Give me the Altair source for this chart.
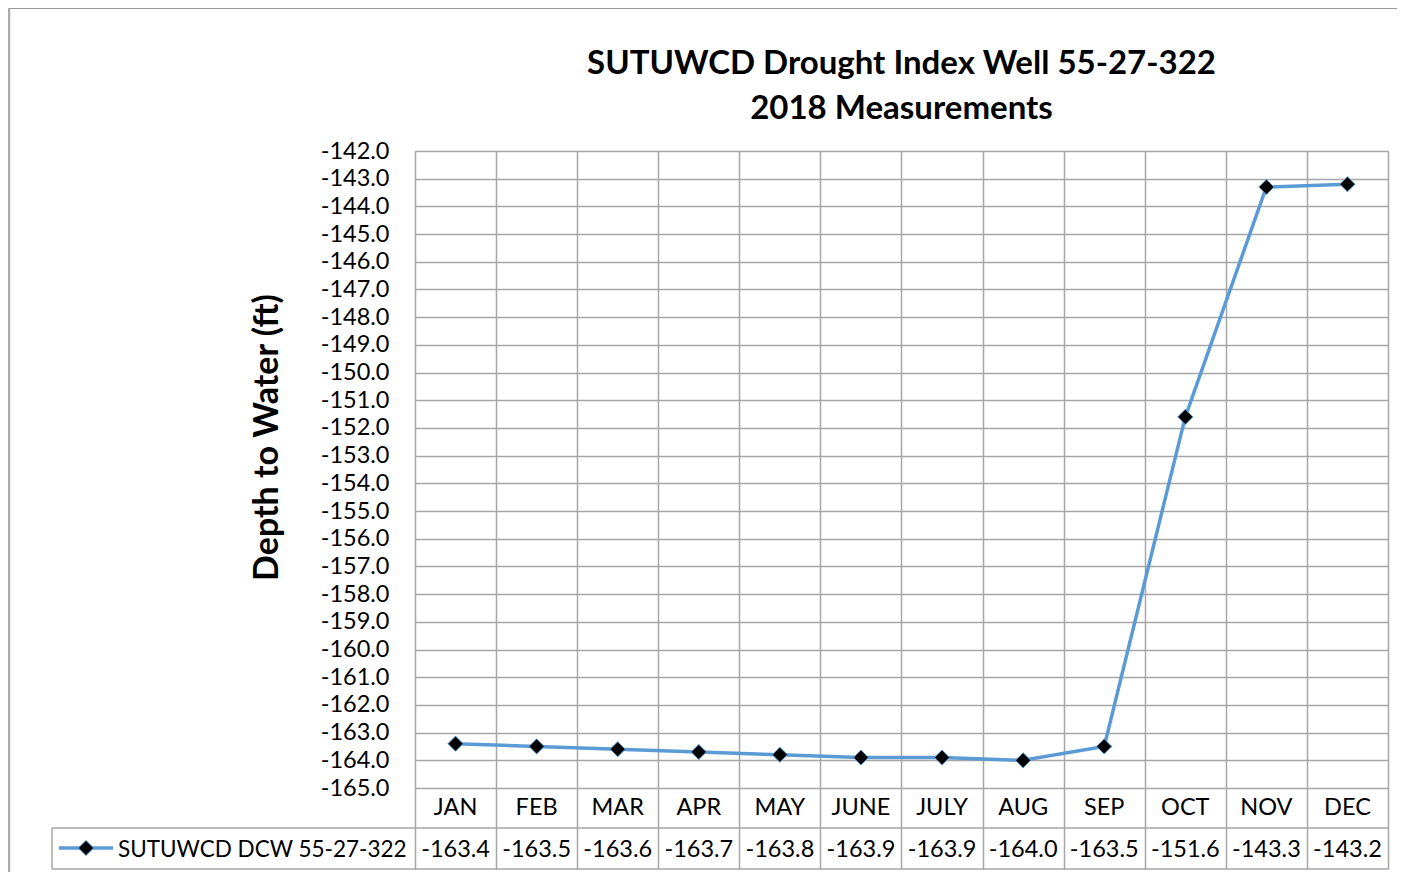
import altair as alt
import pandas as pd

months = ["JAN", "FEB", "MAR", "APR", "MAY", "JUNE", "JULY", "AUG", "SEP", "OCT", "NOV", "DEC"]
depths = [-163.4, -163.5, -163.6, -163.7, -163.8, -163.9, -163.9, -164.0, -163.5, -151.6, -143.3, -143.2]
series_name = "SUTUWCD DCW 55-27-322"
title_lines = ["SUTUWCD Drought Index Well 55-27-322", "2018 Measurements"]
y_ticks = list(range(-165, -141))

df = pd.DataFrame({"month": months, "depth": depths,
                   "label": [f"{v:.1f}" for v in depths]})

FONT = "Lato"
W, H = 973, 637
LINE_C = "#5B9BD5"
GRID_C = "#A6A6A6"
FS = 23.5

xenc = alt.X("month:N", sort=months,
             scale=alt.Scale(type="band", paddingInner=0, paddingOuter=0),
             axis=alt.Axis(title=None, labels=False, ticks=True, tickBand="extent",
                           tickSize=81, tickColor=GRID_C, tickWidth=1.5,
                           grid=True, gridColor=GRID_C, gridWidth=1.5, domain=False))
yenc = alt.Y("depth:Q", scale=alt.Scale(domain=[-165, -142], nice=False, zero=False),
             axis=alt.Axis(values=y_ticks, labelExpr="datum.value + '.0'",
                           labelFontSize=FS, labelFont=FONT, labelColor="black",
                           labelPadding=26, ticks=False, domain=False,
                           grid=True, gridColor=GRID_C, gridWidth=1.5,
                           title="Depth to Water (ft)", titleFont=FONT, titleFontSize=34,
                           titleFontWeight="bold", titleColor="black",
                           titleAngle=270, titleAlign="center", titleBaseline="middle",
                           titleX=-148, titleY=286))

base = alt.Chart(df)
line = base.mark_line(color=LINE_C, strokeWidth=3.5).encode(x=xenc, y=yenc)
pts = base.mark_point(shape="diamond", size=230, filled=True, fill="black",
                      stroke=LINE_C, strokeWidth=1, opacity=1).encode(x=xenc, y=yenc)

month_txt = base.mark_text(font=FONT, fontSize=FS, color="black", baseline="alphabetic").encode(
    x=alt.X("month:N", sort=months), y=alt.value(664), text="month:N")
val_txt = base.mark_text(font=FONT, fontSize=FS, color="black", baseline="alphabetic").encode(
    x=alt.X("month:N", sort=months), y=alt.value(706), text="label:N")

one = pd.DataFrame({"a": [0]})
rc = alt.Chart(one)
rule_mid = rc.mark_rule(color=GRID_C, strokeWidth=1.5).encode(
    x=alt.value(-363), x2=alt.value(W), y=alt.value(677))
rule_bot = rc.mark_rule(color=GRID_C, strokeWidth=1.5).encode(
    x=alt.value(-363), x2=alt.value(W), y=alt.value(718))
rule_left = rc.mark_rule(color=GRID_C, strokeWidth=1.5).encode(
    x=alt.value(-363), y=alt.value(677), y2=alt.value(718))
border_top = rc.mark_rule(color="#9A9A9A", strokeWidth=2).encode(
    x=alt.value(-407), x2=alt.value(W + 9), y=alt.value(-143))
border_left = rc.mark_rule(color="#ABABAB", strokeWidth=2.5).encode(
    x=alt.value(-406), y=alt.value(-144), y2=alt.value(H + 90))

key_line = rc.mark_rule(color=LINE_C, strokeWidth=3.5).encode(
    x=alt.value(-356), x2=alt.value(-302), y=alt.value(697))
key_pt = rc.mark_point(shape="diamond", size=230, filled=True, fill="black",
                       stroke=LINE_C, strokeWidth=1, opacity=1).encode(
    x=alt.value(-329), y=alt.value(697))
key_txt = rc.mark_text(font=FONT, fontSize=22.5, color="black", align="left",
                       baseline="alphabetic", text=series_name).encode(
    x=alt.value(-297), y=alt.value(706))

t1 = rc.mark_text(font=FONT, fontSize=33, fontWeight="bold", color="black",
                  baseline="alphabetic", text=title_lines[0]).encode(
    x=alt.value(W / 2), y=alt.value(-77))
t2 = rc.mark_text(font=FONT, fontSize=33, fontWeight="bold", color="black",
                  baseline="alphabetic", text=title_lines[1]).encode(
    x=alt.value(W / 2), y=alt.value(-32))

chart = alt.layer(
    border_top, border_left, t1, t2,
    line, pts, month_txt, val_txt,
    rule_mid, rule_bot, rule_left, key_line, key_pt, key_txt,
).properties(
    width=W, height=H,
    autosize=alt.AutoSizeParams(type="none"),
    padding={"left": 407, "top": 143, "right": 9, "bottom": 84},
).configure_view(stroke=GRID_C, strokeWidth=1.5).configure(background="white")

chart.save("out.html", embed_options={"renderer": "svg", "actions": False})
